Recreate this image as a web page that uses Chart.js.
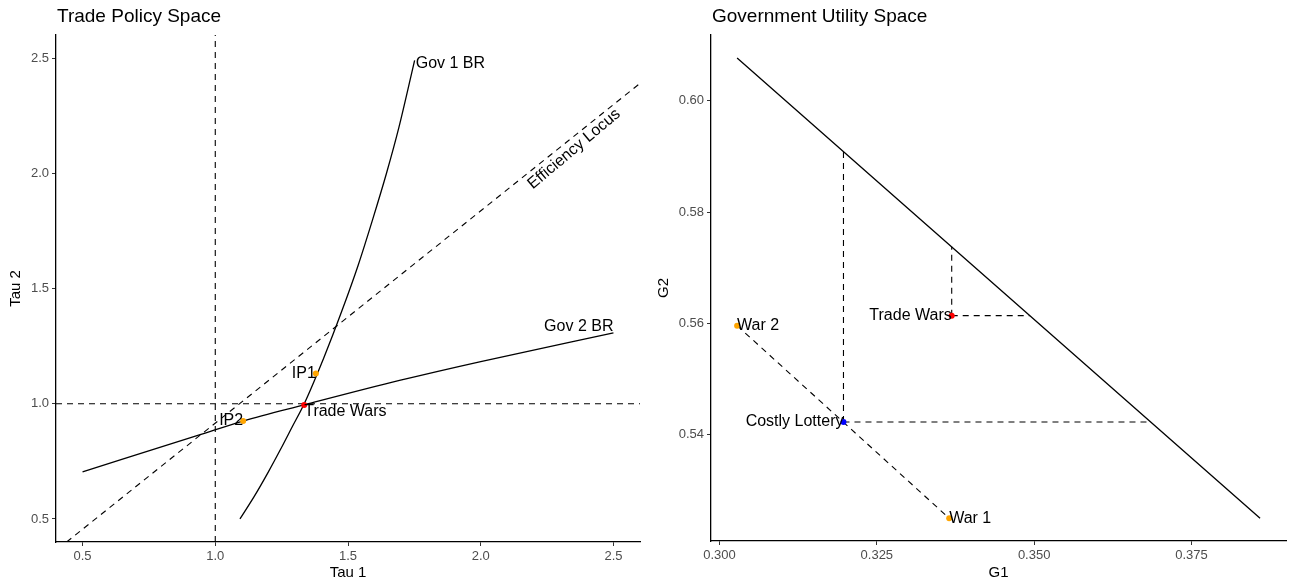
<!DOCTYPE html>
<html>
<head>
<meta charset="utf-8">
<script src="https://cdn.jsdelivr.net/npm/chart.js@4"></script>
<style>
  html, body { margin: 0; padding: 0; background: #fff; }
  #wrap { position: relative; width: 1290px; height: 585px; }
  .panel { position: absolute; top: 0; width: 645px; height: 585px; }
</style>
</head>
<body>
<div id="wrap">
  <div class="panel" style="left:0"><canvas id="tradeChart" width="645" height="585"></canvas></div>
  <div class="panel" style="left:645px"><canvas id="utilChart" width="645" height="585"></canvas></div>
</div>
<script>
// ---- left panel: trade policy space ----
const tauTicks = [0.5, 1.0, 1.5, 2.0, 2.5];
const tauRange = [0.4, 2.6];
const freeTrade = [1.0, 1.0];            // dashed x = 1 and y = 1

const gov1Tau1 = [1.093, 1.148, 1.198, 1.245, 1.290, 1.335, 1.409, 1.476, 1.538, 1.593, 1.645, 1.692, 1.751];
const gov1Tau2 = [0.50, 0.60, 0.70, 0.80, 0.90, 1.00, 1.20, 1.40, 1.60, 1.80, 2.00, 2.20, 2.49];

const gov2Tau1 = [0.5, 0.943, 1.105, 1.335, 1.694, 2.0, 2.5];
const gov2Tau2 = [0.704, 0.866, 0.925, 0.995, 1.101, 1.183, 1.307];

const effTau1 = [0.44, 2.6];
const effTau2 = [0.40, 2.39];

const ipNames = ['IP1', 'IP2'];
const ipTau1 = [1.379, 1.105];
const ipTau2 = [1.131, 0.925];
const twTau1 = 1.335;
const twTau2 = 0.995;

// ---- right panel: government utility space ----
const g1Ticks = [0.300, 0.325, 0.350, 0.375];
const g2Ticks = [0.54, 0.56, 0.58, 0.60];
const g1Range = [0.29865, 0.39002];
const g2Range = [0.52091, 0.61183];

const frontierG1 = [0.3028, 0.3859];
const frontierG2 = [0.6077, 0.5250];

const warNames = ['War 2', 'War 1'];
const warG1 = [0.3028, 0.3365];
const warG2 = [0.5596, 0.5250];

const lotteryG1 = 0.3197, lotteryG2 = 0.5423;
const lotteryTopG2 = 0.5909;    // where the vertical hits the frontier
const lotteryRightG1 = 0.3685;  // where the horizontal hits the frontier

const tradeWarG1 = 0.3369, tradeWarG2 = 0.5614;
const tradeWarTopG2 = 0.5738;
const tradeWarRightG1 = 0.3493;

const FONT = "'Liberation Sans', Arial, sans-serif";
const ORANGE = '#FFA500';

const pts = (xs, ys) => xs.map((x, i) => ({ x: x, y: ys[i] }));

function solid(data) {
  return { data: data, showLine: true, borderColor: '#000', borderWidth: 1.3, pointRadius: 0,
           cubicInterpolationMode: 'monotone', order: 2 };
}
function dashed(data) {
  return { data: data, showLine: true, borderColor: '#000', borderWidth: 1.1, borderDash: [6, 5],
           pointRadius: 0, order: 2 };
}
function dots(data, colour) {
  return { data: data, showLine: false, pointRadius: 3, pointBackgroundColor: colour,
           pointBorderWidth: 0, order: 0 };
}

function makeAxis(o) {
  return {
    type: 'linear',
    min: o.min, max: o.max,
    afterBuildTicks: s => { s.ticks = o.ticks.map(v => ({ value: v })); },
    afterFit: s => { if (s.isHorizontal()) s.height = o.size; else s.width = o.size; },
    ticks: { callback: v => Number(v).toFixed(o.digits), color: '#4d4d4d',
             font: { family: FONT, size: 13 }, padding: 3, autoSkip: false, maxRotation: 0 },
    grid: { display: true, drawOnChartArea: false, drawTicks: true, tickLength: 4,
            color: '#333333', lineWidth: 1 },
    border: { display: true, color: '#000', width: 1.3 },
    title: { display: true, text: o.title, color: '#000', font: { family: FONT, size: 15 },
             padding: o.pad }
  };
}

// titles and point labels
const labelPlugin = {
  id: 'textLabels',
  afterDatasetsDraw(chart, args, opts) {
    const { ctx, chartArea } = chart;
    const xs = chart.scales.x, ys = chart.scales.y;
    ctx.save();
    ctx.fillStyle = '#000';
    ctx.font = '19px ' + FONT;
    ctx.textAlign = 'left';
    ctx.textBaseline = 'alphabetic';
    ctx.fillText(opts.title, chartArea.left + 1, 21.5);
    ctx.font = '16px ' + FONT;
    ctx.textBaseline = 'middle';
    opts.labels.forEach(l => {
      ctx.save();
      ctx.translate(xs.getPixelForValue(l.x), ys.getPixelForValue(l.y));
      if (l.rot) ctx.rotate(l.rot * Math.PI / 180);
      ctx.textAlign = l.align;
      ctx.fillText(l.text, 0, 0);
      ctx.restore();
    });
    ctx.restore();
  }
};

const baseOptions = {
  responsive: false,
  animation: false,
  events: [],
  plugins: { legend: { display: false }, tooltip: { enabled: false } }
};

new Chart(document.getElementById('tradeChart'), {
  type: 'scatter',
  plugins: [labelPlugin],
  data: {
    datasets: [
      dots(pts(ipTau1, ipTau2), ORANGE),
      dots([{ x: twTau1, y: twTau2 }], '#FF0000'),
      dashed(pts([freeTrade[0], freeTrade[0]], tauRange)),
      dashed(pts(tauRange, [freeTrade[1], freeTrade[1]])),
      dashed(pts(effTau1, effTau2)),
      solid(pts(gov1Tau1, gov1Tau2)),
      solid(pts(gov2Tau1, gov2Tau2))
    ]
  },
  options: Object.assign({}, baseOptions, {
    layout: { padding: { left: 0, right: 5, top: 35, bottom: 0 } },
    scales: {
      x: makeAxis({ min: tauRange[0], max: tauRange[1], ticks: tauTicks, digits: 1, size: 43,
                    title: 'Tau 1', pad: { top: 0, bottom: 3 } }),
      y: makeAxis({ min: tauRange[0], max: tauRange[1], ticks: tauTicks, digits: 1, size: 56,
                    title: 'Tau 2', pad: { top: 6.5, bottom: 0 } })
    },
    plugins: Object.assign({}, baseOptions.plugins, {
      textLabels: {
        title: 'Trade Policy Space',
        labels: [
          { text: 'Gov 1 BR', x: 1.755, y: 2.475, align: 'left' },
          { text: 'Gov 2 BR', x: 2.5, y: 1.335, align: 'right' },
          { text: 'Efficiency Locus', x: 2.352, y: 2.105, align: 'center', rot: -40 },
          { text: ipNames[0], x: ipTau1[0], y: ipTau2[0], align: 'right' },
          { text: ipNames[1], x: ipTau1[1], y: ipTau2[1], align: 'right' },
          { text: 'Trade Wars', x: twTau1, y: twTau2 - 0.03, align: 'left' }
        ]
      }
    })
  })
});

new Chart(document.getElementById('utilChart'), {
  type: 'scatter',
  plugins: [labelPlugin],
  data: {
    datasets: [
      dots(pts(warG1, warG2), ORANGE),
      dots([{ x: lotteryG1, y: lotteryG2 }], '#0000FF'),
      dots([{ x: tradeWarG1, y: tradeWarG2 }], '#FF0000'),
      solid(pts(frontierG1, frontierG2)),
      dashed(pts(warG1, warG2)),
      dashed(pts([lotteryG1, lotteryG1], [lotteryG2, lotteryTopG2])),
      dashed(pts([lotteryG1, lotteryRightG1], [lotteryG2, lotteryG2])),
      dashed(pts([tradeWarG1, tradeWarG1], [tradeWarG2, tradeWarTopG2])),
      dashed(pts([tradeWarG1, tradeWarRightG1], [tradeWarG2, tradeWarG2]))
    ]
  },
  options: Object.assign({}, baseOptions, {
    layout: { padding: { left: 0, right: 2, top: 35, bottom: 0 } },
    scales: {
      x: makeAxis({ min: g1Range[0], max: g1Range[1], ticks: g1Ticks, digits: 3, size: 44,
                    title: 'G1', pad: { top: 0, bottom: 3 } }),
      y: makeAxis({ min: g2Range[0], max: g2Range[1], ticks: g2Ticks, digits: 2, size: 66,
                    title: 'G2', pad: { top: 10, bottom: 0 } })
    },
    plugins: Object.assign({}, baseOptions.plugins, {
      textLabels: {
        title: 'Government Utility Space',
        labels: [
          { text: warNames[0], x: warG1[0], y: warG2[0], align: 'left' },
          { text: warNames[1], x: warG1[1], y: warG2[1], align: 'left' },
          { text: 'Costly Lottery', x: lotteryG1, y: lotteryG2, align: 'right' },
          { text: 'Trade Wars', x: tradeWarG1, y: tradeWarG2, align: 'right' }
        ]
      }
    })
  })
});
</script>
</body>
</html>
